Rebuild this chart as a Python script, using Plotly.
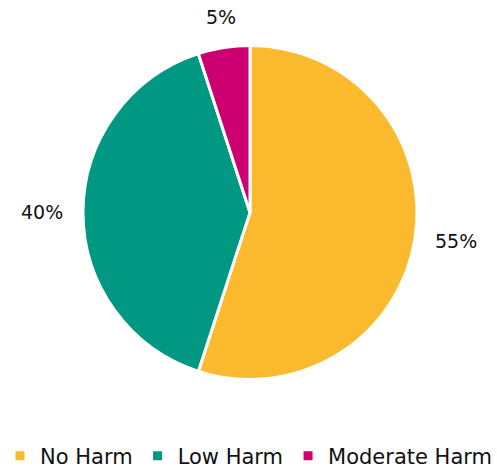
import math
import plotly.graph_objects as go

categories = ["No Harm", "Low Harm", "Moderate Harm"]
values = [55, 40, 5]
colors = ["#FBB92E", "#009882", "#CC0070"]

W, H = 497, 472
dom_x = [83 / W, 417 / W]
dom_y = [1 - 380 / H, 1 - 45 / H]

fig = go.Figure(go.Pie(
    labels=categories,
    values=values,
    sort=False,
    direction="clockwise",
    rotation=0,
    marker=dict(colors=colors, line=dict(color="white", width=3)),
    textinfo="none",
    domain=dict(x=dom_x, y=dom_y),
    hoverinfo="label+percent",
))

# outside percent labels placed at slice mid-angles
cx = (dom_x[0] + dom_x[1]) / 2 * W
cy = (1 - (dom_y[0] + dom_y[1]) / 2) * H
radius = min((dom_x[1] - dom_x[0]) * W, (dom_y[1] - dom_y[0]) * H) / 2
label_r = radius + 18
total = sum(values)
cum = 0
annotations = []
for v in values:
    mid = (cum + v / 2) / total * 2 * math.pi
    cum += v
    s, c = math.sin(mid), math.cos(mid)
    px = cx + label_r * s
    py = cy - label_r * c
    xanchor = "left" if s > 0.5 else ("right" if s < -0.5 else "center")
    yanchor = "bottom" if c > 0.5 else ("top" if c < -0.5 else "middle")
    annotations.append(dict(
        x=px / W, y=1 - py / H, xref="paper", yref="paper",
        text=f"{round(v / total * 100)}%", showarrow=False,
        xanchor=xanchor, yanchor=yanchor,
        font=dict(size=19, color="#111111"),
    ))

fig.update_layout(
    width=W, height=H,
    margin=dict(l=0, r=0, t=0, b=0, autoexpand=False),
    paper_bgcolor="white",
    font=dict(family="DejaVu Sans, sans-serif", size=19, color="#111111"),
    annotations=annotations,
    showlegend=True,
    legend=dict(orientation="h", x=0.5, xanchor="center", y=1 - 456 / H, yanchor="middle",
                yref="container", font=dict(size=21), itemwidth=30, tracegroupgap=0),
)
fig.write_html("out.html")
